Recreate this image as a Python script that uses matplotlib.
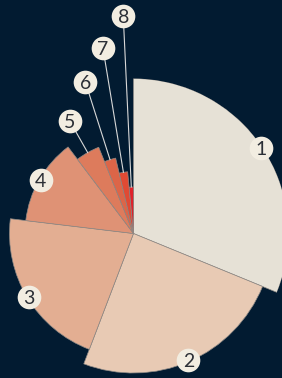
import numpy as np
import matplotlib
matplotlib.use("Agg")
import matplotlib.pyplot as plt

# slice data: share of the circle (%) and relative radius
labels = ["1", "2", "3", "4", "5", "6", "7", "8"]
shares = [31.2, 24.6, 21.1, 12.8, 4.2, 2.4, 2.2, 1.5]
radii = [1.0, 0.9, 0.8, 0.7, 0.6, 0.5, 0.4, 0.3]
colors = ["#e6e1d6", "#e8cab4", "#e3ae92", "#df9275",
          "#dd7b5c", "#dc6548", "#e04a34", "#e0212a"]

bg = "#021b31"
label_bg = "#f2ede1"
label_fg = "#2b2f36"

fig = plt.figure(figsize=(2.82, 3.78), dpi=100, facecolor=bg)
# polar axes placed so the pie centre sits at (133.5, 233.5) px, r=1 -> 155 px
W, H = 282, 378
cx, cy, rpx = 133.5, H - 233.5, 155
ax = fig.add_axes([(cx - rpx) / W, (cy - rpx) / H, 2 * rpx / W, 2 * rpx / H],
                  projection="polar")
ax.set_theta_zero_location("N")
ax.set_theta_direction(-1)
ax.set_ylim(0, 1)
ax.set_axis_off()

widths = np.array(shares) / sum(shares) * 2 * np.pi
starts = np.concatenate([[0], np.cumsum(widths)[:-1]])
mids = starts + widths / 2

ax.bar(starts, radii, width=widths, align="edge", color=colors,
       edgecolor="#8f8a86", linewidth=0.5)

# labels: big slices get the badge on the rim, small ones are pushed outwards
k = 0
for lab, m, r, s in zip(labels, mids, radii, shares):
    if s > 10:
        lr = r - 0.01
    else:
        lr = 0.835 + 0.19 * k
        k += 1
        ax.plot([m, m], [r, lr], color="#d8d8d8", lw=0.8, clip_on=False,
                zorder=3)
    ax.scatter([m], [lr], s=290, color=label_bg, zorder=4, clip_on=False,
               linewidths=0)
    ax.text(m, lr, lab, ha="center", va="center_baseline", fontsize=14,
            family="Lato", color=label_fg, zorder=5, clip_on=False)

fig.savefig("out.png", dpi=100, facecolor=bg)
